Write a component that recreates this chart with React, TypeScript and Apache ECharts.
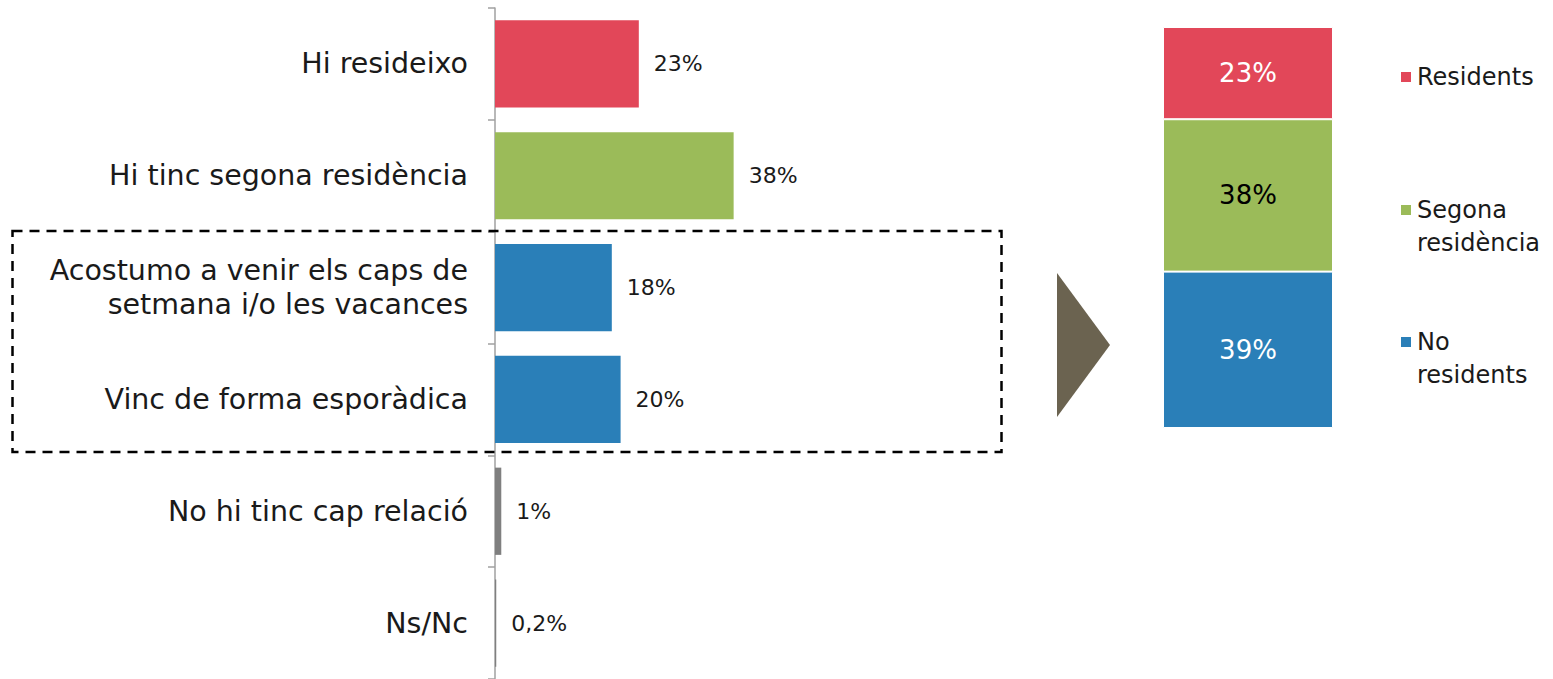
import React, { useEffect, useRef } from "react";
import * as echarts from "echarts";

const categories = [
  "Hi resideixo",
  "Hi tinc segona residència",
  "Acostumo a venir els caps de\nsetmana i/o les vacances",
  "Vinc de forma esporàdica",
  "No hi tinc cap relació",
  "Ns/Nc",
];
const values = [22.9, 38.0, 18.6, 20.0, 1.0, 0.2];
const valueLabels = ["23%", "38%", "18%", "20%", "1%", "0,2%"];
const barColors = ["#E24759", "#9BBB59", "#2A7FB8", "#2A7FB8", "#7F7F7F", "#7F7F7F"];

const groupNames = ["Residents", "Segona residència", "No residents"];
const groupLegend = ["Residents", "Segona\nresidència", "No\nresidents"];
const groupValues = [23, 38, 39];
const groupColors = ["#E24759", "#9BBB59", "#2A7FB8"];
const groupLabelColors = ["#ffffff", "#000000", "#ffffff"];

const FONT = "DejaVu Sans";

export default function App() {
  const ref = useRef<HTMLDivElement>(null);
  useEffect(() => {
    if (!ref.current) return;
    const chart = echarts.init(ref.current, null, { renderer: "svg" });
    const legendCenters = [77, 210, 342];
    const LH = 33;
    const option: any = {
      animation: false,
      backgroundColor: "#ffffff",
      textStyle: { fontFamily: FONT },
      grid: [
        { left: 495, top: 8, width: 628, height: 672 },
        { left: 1163, top: 27, width: 170, height: 401 },
      ],
      xAxis: [
        { type: "value", gridIndex: 0, min: 0, max: 100, show: false },
        { type: "category", gridIndex: 1, data: [""], show: false },
      ],
      yAxis: [
        {
          type: "category",
          gridIndex: 0,
          inverse: true,
          data: categories,
          axisLine: { show: true, lineStyle: { color: "#A0A0A0", width: 1.5 } },
          axisTick: { show: true, length: 7, lineStyle: { color: "#A0A0A0", width: 1.5 } },
          axisLabel: {
            margin: 27,
            fontSize: 28.5,
            lineHeight: 34,
            color: "#1a1a1a",
            fontFamily: FONT,
            align: "right",
          },
          splitLine: { show: false },
        },
        { type: "value", gridIndex: 1, min: 0, max: 100, inverse: true, show: false },
      ],
      legend: groupNames.map((n, i) => {
        const multi = groupLegend[i].indexOf("\n") >= 0;
        return {
          data: [n],
          orient: "vertical",
          left: 1399,
          top: legendCenters[i] - (multi ? 1.5 * LH : 0.5 * LH),
          padding: 0,
          icon: "rect",
          itemWidth: 12,
          itemHeight: 12,
          selectedMode: false,
          formatter: () => (multi ? "\n" : "") + groupLegend[i],
          textStyle: {
            fontSize: 24,
            lineHeight: LH,
            color: "#1a1a1a",
            fontFamily: FONT,
          },
        };
      }),
      graphic: [
        {
          type: "rect",
          shape: { x: 12.5, y: 231, width: 989, height: 221 },
          style: { fill: "none", stroke: "#000000", lineWidth: 2.5, lineDash: [10, 7] },
          z: 100,
        },
        {
          type: "polygon",
          shape: { points: [[1057, 273], [1110, 345], [1057, 417]] },
          style: { fill: "#6B6350" },
        },
      ],
      series: [
        {
          type: "bar",
          xAxisIndex: 0,
          yAxisIndex: 0,
          barCategoryGap: "22%",
          data: values.map((v, i) => ({ value: v, itemStyle: { color: barColors[i] } })),
          label: {
            show: true,
            position: "right",
            distance: 15,
            fontSize: 22,
            color: "#1a1a1a",
            fontFamily: FONT,
            formatter: (p: any) => valueLabels[p.dataIndex],
          },
        },
        ...groupNames.map((n, i) => ({
          type: "bar",
          name: n,
          xAxisIndex: 1,
          yAxisIndex: 1,
          stack: "total",
          barWidth: "100%",
          data: [groupValues[i]],
          itemStyle: { color: groupColors[i], borderColor: "#ffffff", borderWidth: 1 },
          label: {
            show: true,
            position: "inside",
            fontSize: 26,
            color: groupLabelColors[i],
            fontFamily: FONT,
            formatter: (p: any) => p.value + "%",
          },
        })),
      ],
    };
    chart.setOption(option);
    return () => chart.dispose();
  }, []);
  return (
    <div
      ref={ref}
      style={{ position: "absolute", left: 0, top: 0, width: 1553, height: 679 }}
    />
  );
}
